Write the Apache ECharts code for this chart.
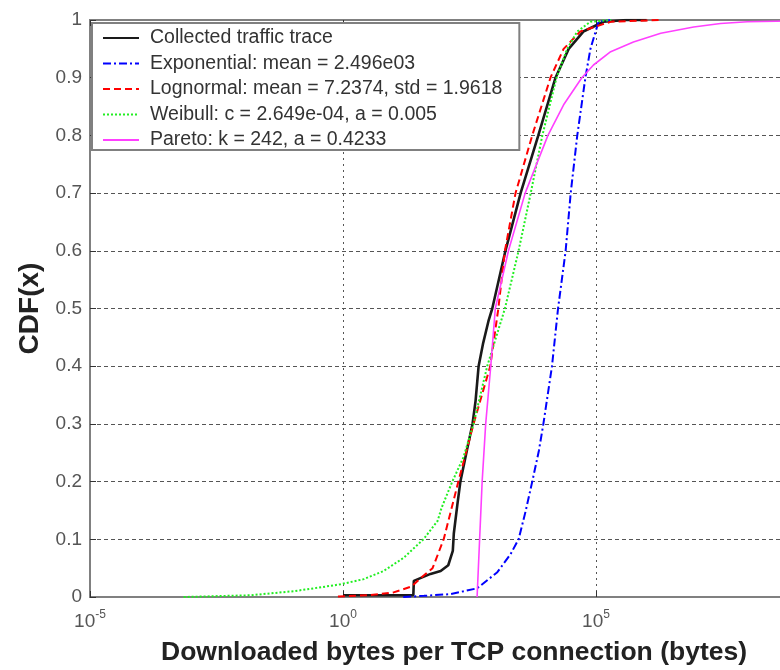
<!DOCTYPE html>
<html>
<head>
<meta charset="utf-8">
<title>CDF of downloaded bytes per TCP connection</title>
<script src="https://cdn.jsdelivr.net/npm/echarts@6/dist/echarts.min.js"></script>
<style>
  html, body { margin: 0; padding: 0; background: #fff; width: 780px; height: 670px; overflow: hidden; }
  #chart { width: 870px; height: 670px; }
</style>
</head>
<body>
<div id="chart"></div>
<script>
// Series names as shown in the legend
const seriesNames = [
  'Collected traffic trace',
  'Exponential: mean = 2.496e03',
  'Lognormal: mean = 7.2374, std = 1.9618',
  'Weibull: c = 2.649e-04, a = 0.005',
  'Pareto: k = 242, a = 0.4233'
];

// x positions are stored as decimal exponents (log10 of bytes), y values are CDF
const traceExp = [0, 1.39, 1.40, 1.73, 1.93, 2.08, 2.17, 2.19, 2.26, 2.32, 2.45, 2.56, 2.62, 2.68, 2.77, 2.88, 2.95, 3.21, 3.51, 3.86, 4.20, 4.46, 4.75, 5.15, 5.6, 6.0];
const traceCdf = [0.003, 0.003, 0.028, 0.040, 0.045, 0.055, 0.08, 0.11, 0.16, 0.20, 0.255, 0.30, 0.34, 0.40, 0.44, 0.48, 0.50, 0.60, 0.70, 0.80, 0.90, 0.95, 0.98, 0.997, 1.0, 1.0];

const expoExp = [1.19, 1.60, 2.12, 2.65, 3.05, 3.31, 3.47, 3.61, 3.74, 3.87, 3.96, 4.13, 4.25, 4.40, 4.50, 4.63, 4.79, 4.89, 5.05, 5.30];
const expoCdf = [0, 0.002, 0.005, 0.015, 0.043, 0.074, 0.10, 0.149, 0.20, 0.253, 0.30, 0.40, 0.50, 0.60, 0.70, 0.80, 0.90, 0.95, 0.997, 1.0];

const lognExp = [-0.10, 0.50, 1.00, 1.35, 1.50, 1.77, 1.99, 2.28, 2.58, 2.91, 3.07, 3.20, 3.41, 3.74, 4.10, 4.36, 4.69, 5.29, 6.30];
const lognCdf = [0.001, 0.003, 0.008, 0.018, 0.030, 0.050, 0.10, 0.20, 0.30, 0.40, 0.50, 0.60, 0.70, 0.80, 0.90, 0.95, 0.98, 0.997, 1.0];

const weibExp = [-3.15, -1.83, -0.98, -0.50, -0.05, 0.41, 0.80, 1.20, 1.59, 1.87, 1.95, 2.16, 2.38, 2.58, 2.85, 3.20, 3.47, 3.71, 3.94, 4.22, 4.43, 4.63, 4.89, 5.30];
const weibCdf = [0, 0.003, 0.010, 0.016, 0.022, 0.031, 0.045, 0.068, 0.10, 0.132, 0.155, 0.20, 0.242, 0.30, 0.40, 0.50, 0.60, 0.70, 0.80, 0.90, 0.95, 0.98, 0.997, 1.0];

const paretoExp = [2.65, 2.70, 2.75, 2.82, 2.92, 3.01, 3.27, 3.60, 4.05, 4.36, 4.72, 4.95, 5.29, 5.74, 6.28, 6.93, 7.46, 7.99, 10];
const paretoCdf = [0, 0.10, 0.20, 0.30, 0.40, 0.50, 0.60, 0.70, 0.80, 0.853, 0.90, 0.922, 0.945, 0.962, 0.977, 0.988, 0.994, 0.997, 1.0];

// Y tick values
const yTicks = [0, 0.1, 0.2, 0.3, 0.4, 0.5, 0.6, 0.7, 0.8, 0.9, 1];

const FONT = '"Liberation Sans", Arial, Helvetica, sans-serif';

function toPoints(exps, cdf) {
  return exps.map((e, i) => [Math.pow(10, e), cdf[i]]);
}

const lineDefs = [
  { data: toPoints(traceExp, traceCdf), color: '#1a1a1a', width: 2.6, type: 'solid' },
  { data: toPoints(expoExp, expoCdf), color: '#0000ff', width: 2, type: [8, 3, 2, 3] },
  { data: toPoints(lognExp, lognCdf), color: '#ff0000', width: 2, type: [7, 4] },
  { data: toPoints(weibExp, weibCdf), color: '#22ee22', width: 2, type: [2, 2] },
  { data: toPoints(paretoExp, paretoCdf), color: '#ff40ff', width: 1.6, type: 'solid' }
];

const chart = echarts.init(document.getElementById('chart'), null, { renderer: 'canvas' });

const gridDash = '#555';

chart.setOption({
  animation: false,
  backgroundColor: '#fff',
  title: {
    text: 'Downloaded bytes per TCP connection (bytes)',
    left: 161,
    top: 639,
    padding: 0,
    textStyle: { fontFamily: FONT, fontSize: 26.5, fontWeight: 'bold', color: '#222' }
  },
  grid: {
    left: 90, right: 21, top: 20, bottom: 73,
    show: true, borderColor: '#808080', borderWidth: 2, backgroundColor: '#fff'
  },
  legend: {
    orient: 'vertical',
    left: 92, top: 23,
    padding: [5, 17, 0, 10],
    itemGap: 5.5,
    itemWidth: 36,
    itemHeight: 14,
    backgroundColor: '#fff',
    borderColor: '#808080',
    borderWidth: 2,
    borderRadius: 0,
    itemStyle: { opacity: 0 },
    textStyle: { fontFamily: FONT, fontSize: 19.5, color: '#333', padding: [0, 0, 0, 6] },
    data: seriesNames
  },
  xAxis: [{
    type: 'log',
    logBase: 10,
    min: 1e-5,
    max: 1e10,
    interval: 5,
    axisLine: { show: true, lineStyle: { color: '#808080', width: 2 } },
    axisTick: { show: true, inside: true, length: 6, lineStyle: { color: '#333', width: 1 } },
    splitLine: { show: true, lineStyle: { color: gridDash, width: 1, type: [2, 4] } },
    axisLabel: {
      margin: 8,
      formatter: function (v) {
        const e = Math.round(Math.log10(v));
        if (e > 8) return '';
        return '{b|10}{s|' + e + '}';
      },
      rich: {
        b: { fontFamily: FONT, fontSize: 19, color: '#555', lineHeight: 26, verticalAlign: 'bottom' },
        s: { fontFamily: FONT, fontSize: 12, color: '#555', lineHeight: 12, verticalAlign: 'top', padding: [4, 0, 0, 0] }
      }
    }
  }, {
    type: 'log',
    logBase: 10,
    min: 1e-5,
    max: 1e10,
    interval: 5,
    position: 'top',
    axisLine: { show: true, lineStyle: { color: '#808080', width: 2 } },
    axisTick: { show: true, inside: true, length: 6, lineStyle: { color: '#333', width: 1 } },
    axisLabel: { show: false },
    splitLine: { show: false }
  }],
  yAxis: {
    type: 'value',
    min: 0,
    max: 1,
    interval: 0.1,
    name: 'CDF(x)',
    nameLocation: 'middle',
    nameGap: 43,
    nameRotate: 90,
    nameTextStyle: { fontFamily: FONT, fontSize: 28, fontWeight: 'bold', color: '#222' },
    axisLine: { show: true, lineStyle: { color: '#808080', width: 2 } },
    axisTick: { show: true, inside: true, length: 6, lineStyle: { color: '#333', width: 1 } },
    splitLine: { show: true, lineStyle: { color: gridDash, width: 1, type: [4, 3] } },
    axisLabel: {
      margin: 8,
      fontFamily: FONT,
      fontSize: 19,
      color: '#555',
      formatter: function (v) {
        const t = yTicks.find(y => Math.abs(y - v) < 1e-9);
        return t === undefined ? '' : String(t);
      }
    }
  },
  series: lineDefs.map((d, i) => ({
    name: seriesNames[i],
    type: 'line',
    xAxisIndex: 0,
    data: d.data,
    showSymbol: false,
    symbol: 'none',
    smooth: false,
    clip: true,
    lineStyle: { color: d.color, width: d.width, type: d.type },
    itemStyle: { color: d.color },
    emphasis: { disabled: true }
  }))
});
</script>
</body>
</html>
